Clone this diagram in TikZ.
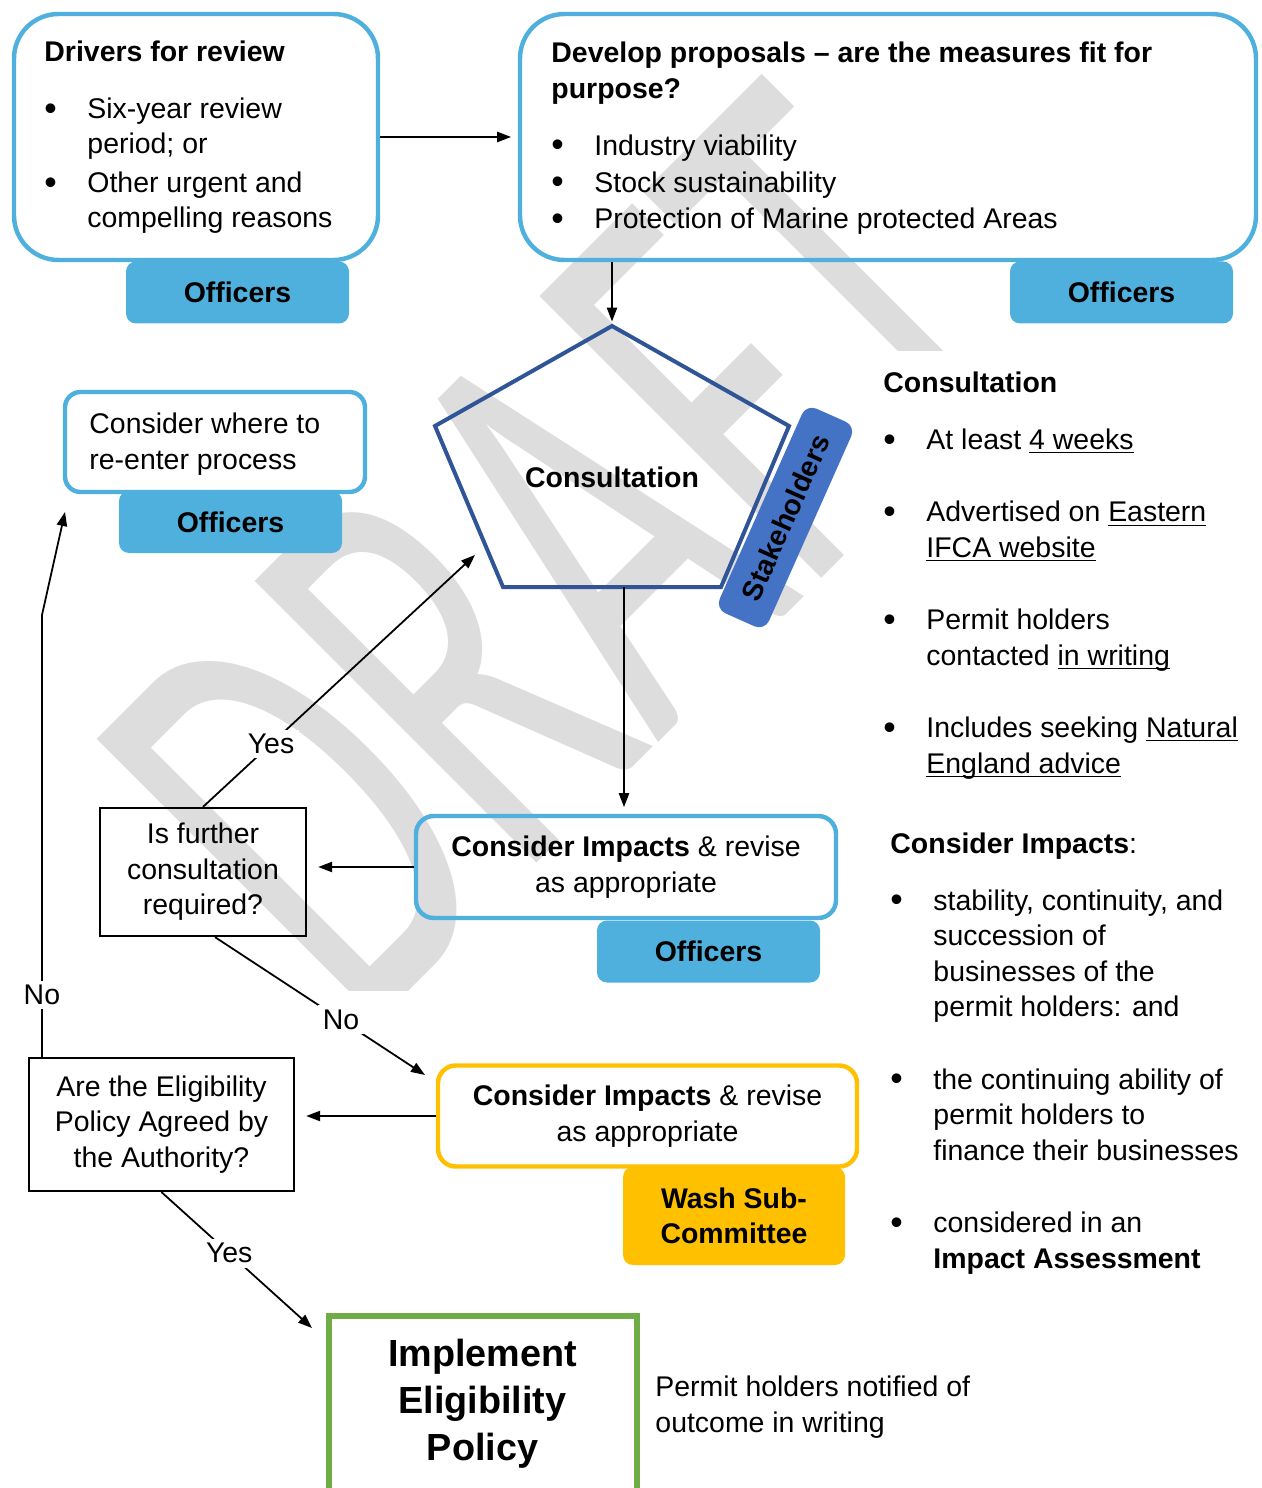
\documentclass[tikz,border=0pt]{standalone}
\usepackage{fontspec}
\setmainfont{Liberation Sans}
\newfontfamily\wmfont{Carlito}
\usetikzlibrary{positioning, arrows.meta, calc}

\definecolor{ifcaBlue}{HTML}{4FB0DE}
\definecolor{pentBlue}{HTML}{2F5597}
\definecolor{stakeBlue}{HTML}{4472C4}
\definecolor{washGold}{HTML}{FFC000}
\definecolor{implGreen}{HTML}{70AD47}
\definecolor{draftGray}{HTML}{DDDDDD}

\newcommand{\pxu}{0.45pt}
\newcommand{\bodyfont}{\fontsize{12.8}{16}\selectfont}
\newcommand{\bul}{\makebox[19.35pt][l]{\raisebox{-0.06em}{\scalebox{1.25}{\textbullet}}}}
\newcommand{\nobul}{\hspace*{19.35pt}}
\newcommand{\undr}[1]{\underline{\smash{#1}}}

\begin{document}
\begin{tikzpicture}[
  x=\pxu, y=-\pxu,
  every node/.style={font=\bodyfont},
  box/.style={draw=ifcaBlue, line width=2pt, rounded corners=8pt,
              inner sep=0pt, align=center},
  qbox/.style={draw=black, line width=1pt, inner sep=0pt, align=center},
  tab/.style={fill=ifcaBlue, rounded corners=4.5pt, inner sep=0pt,
              minimum width=223*\pxu, minimum height=62*\pxu,
              font=\bodyfont\bfseries, align=center},
  txt/.style={inner sep=0pt, align=left, anchor=base west},
  lbl/.style={fill=white, inner sep=2pt},
  draft/.style={inner sep=0pt, anchor=base west, text=draftGray,
                font=\wmfont\fontsize{162.5}{162.5}\selectfont},
  arrow/.style={-{Triangle[length=6.3pt, width=4.6pt]}, line width=0.8pt},
]
\useasboundingbox (0,0) rectangle (1261,1488);

% Watermark
\begin{scope}
  \clip (0,0) -- (1261,0) -- (1261,351) -- (870,351) -- (870,990) -- (0,990) -- cycle;
  \node[draft, rotate=45] (draft) at (361,1039) {\scalebox{1}[1.72]{DRAFT}};
\end{scope}

% Officer tabs
\node[tab] (tabDrivers) at (237.5,292.5) {Officers};
\node[tab] (tabDevelop) at (1121.5,292.5) {Officers};
\node[tab] (tabReenter) at (230.5,522) {Officers};
\node[tab] (tabImpacts) at (708.5,951.5) {Officers};
\node[tab, fill=washGold, minimum width=222*\pxu, minimum height=98*\pxu]
     (tabWash) at (734,1216) {Wash Sub-\\Committee};

% Boxes
\node[box, rounded corners=20pt, minimum width=364*\pxu, minimum height=246*\pxu]
     (drivers) at (196,137) {};
\node[box, rounded corners=20pt, minimum width=736*\pxu, minimum height=246*\pxu]
     (develop) at (888,137) {};
\node[box, rounded corners=7pt, minimum width=300*\pxu, minimum height=100*\pxu]
     (reenter) at (215,442) {};
\node[box, minimum width=420*\pxu, minimum height=102*\pxu]
     (impacts) at (626,867) {\textbf{Consider Impacts} \& revise\\as appropriate};
\node[box, draw=washGold, minimum width=419*\pxu, minimum height=101*\pxu]
     (wash) at (647.5,1116) {\textbf{Consider Impacts} \& revise\\as appropriate};
\node[qbox, minimum width=206*\pxu, minimum height=128*\pxu]
     (further) at (203,872) {Is further\\consultation\\required?};
\node[qbox, minimum width=265*\pxu, minimum height=133*\pxu]
     (agreed) at (161.5,1124.5) {Are the Eligibility\\Policy Agreed by\\the Authority?};
\node[qbox, draw=implGreen, line width=2.7pt, minimum width=308*\pxu,
      minimum height=176*\pxu, font=\fontsize{17}{21.2}\selectfont\bfseries]
     (implement) at (482.5,1404) {Implement\\Eligibility\\Policy};

% Consultation pentagon
\draw[pentBlue, line width=1.8pt, line join=miter]
  (612,326) coordinate (pTop) -- (789,426) -- (721,587)
  -- (503,587) -- (435,426) -- cycle;
\coordinate (pBot) at (624,587);
\node (consult) at (612,477) {\textbf{Consultation}};
\node[fill=stakeBlue, rounded corners=5pt, inner sep=0pt, rotate=66,
      minimum width=224*\pxu, minimum height=54*\pxu, font=\bodyfont\bfseries]
     (stake) at (785.5,517.5) {Stakeholders};

% Box texts (placed by their last line)
\node[txt] (driversTxt) at (44,228) {\textbf{Drivers for review}\\[9.7pt]
  \bul Six-year review\\ \nobul period; or\\[1.35pt]
  \bul Other urgent and\\ \nobul compelling reasons};
\node[txt] (developTxt) at (551,229)
  {\textbf{Develop proposals – are the measures fit for}\\\textbf{purpose?}\\[9.7pt]
  \bul Industry viability\\[0.6pt]
  \bul Stock sustainability\\[0.6pt]
  \bul Protection of Marine protected Areas};
\node[txt] (reenterTxt) at (89,469) {Consider where to\\re-enter process};

% Side notes
\node[txt] (consultTxt) at (883,773) {\textbf{Consultation}\\[9.7pt]
  \bul At least \undr{4 weeks}\\[16.5pt]
  \bul Advertised on \undr{Eastern}\\ \nobul\undr{IFCA website}\\[16.5pt]
  \bul Permit holders\\ \nobul contacted \undr{in writing}\\[16.5pt]
  \bul Includes seeking \undr{Natural}\\ \nobul\undr{England advice}};
\node[txt] (impactsTxt) at (890,1268) {\textbf{Consider Impacts}:\\[9.7pt]
  \bul stability, continuity, and\\ \nobul succession of\\
  \nobul businesses of the\\ \nobul permit holders: and\\[16.5pt]
  \bul the continuing ability of\\ \nobul permit holders to\\
  \nobul finance their businesses\\[16.5pt]
  \bul considered in an\\ \nobul\textbf{Impact Assessment}};
\node[txt] (notifyTxt) at (655,1432) {Permit holders notified of\\outcome in writing};

% Arrow ends
\coordinate (yesEnd) at (475,555);
\coordinate (noEnd) at (425,1075);
\coordinate (noBend) at (42,615);
\coordinate (reEnd) at (65,512);
\coordinate (implEnd) at (312,1328);

% Arrows
\draw[arrow, shorten >=3pt] (drivers.east) -- (develop.west);
\draw[arrow, shorten >=2pt] (develop.south -| pTop) -- (pTop);
\draw[arrow, shorten >=3pt] (pBot) -- (pBot |- impacts.north);
\draw[arrow, shorten >=5pt] (impacts.west) -- (impacts.west -| further.east);
\draw[arrow, shorten >=5pt] (wash.west) -- (wash.west -| agreed.east);
\draw[arrow] (further.north) -- node[lbl, pos=.25] (yesA) {Yes} (yesEnd);
\draw[arrow] ($(further.south)+(12,0)$) -- node[lbl, pos=.6] (noA) {No} (noEnd);
\draw[arrow] ($(agreed.north west)+(14,0)$) -- node[lbl, pos=.14] (noB) {No} (noBend)
  -- (reEnd);
\draw[arrow] (agreed.south) -- node[lbl, pos=.45] (yesB) {Yes} (implEnd);

\end{tikzpicture}
\end{document}
